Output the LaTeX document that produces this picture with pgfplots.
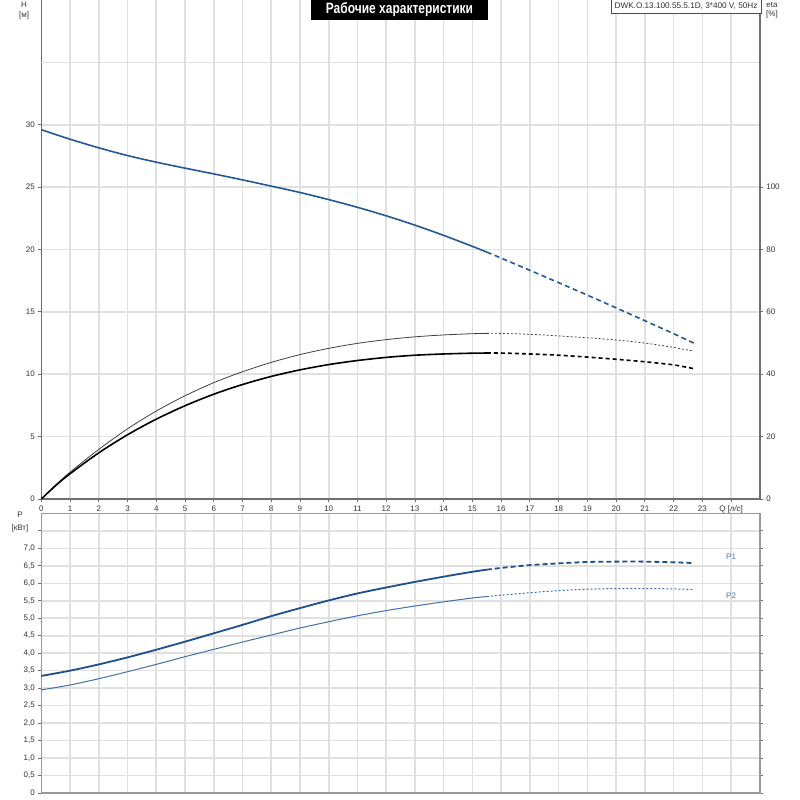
\documentclass[border=0pt]{standalone}
\usepackage{fontspec}
\setmainfont{Liberation Sans}
\newfontfamily\titlefont[FakeStretch=0.8]{Liberation Sans}
\usepackage{pgfplots}
\usepackage{pgfplotstable}
\pgfplotsset{compat=1.18}

\definecolor{hblue}{HTML}{245896}
\definecolor{pone}{HTML}{1F4F8C}
\definecolor{ptwo}{HTML}{3E70AA}
\definecolor{lblblue}{HTML}{4A78B0}
\definecolor{gridc}{HTML}{E0E0E0}
\definecolor{axc}{HTML}{6E6E6E}
\definecolor{txt}{HTML}{333333}

% head curve H [m]
\pgfplotstableread{
Q H
0 29.6
1 28.84
2 28.15
3 27.53
4 27.0
5 26.52
6 26.06
7 25.58
8 25.08
9 24.57
10 24.0
11 23.38
12 22.70
13 21.95
14 21.13
15 20.25
15.5 19.79
}\Hsolid
\pgfplotstableread{
Q H
15.5 19.79
16 19.31
17 18.33
18 17.34
19 16.34
20 15.32
21 14.29
22 13.25
22.7 12.5
}\Hdash

% efficiency curves eta [%]
\pgfplotstableread{
Q a b
0 0 0
0.5 4.5 4.3
1 8.6 8.1
2 15.9 14.8
3 22.5 20.6
4 28.2 25.6
5 33.1 29.9
6 37.3 33.6
7 40.8 36.7
8 43.8 39.3
9 46.3 41.4
10 48.3 43.1
11 49.9 44.4
12 51.1 45.4
13 52.0 46.1
14 52.6 46.5
15 53.0 46.75
15.5 53.1 46.8
}\Esolid
\pgfplotstableread{
Q a b
15.5 53.1 46.8
16 53.1 46.8
17 52.8 46.5
18 52.3 46.1
19 51.7 45.5
20 51.0 44.8
21 50.0 44.0
22 48.6 43.0
22.7 47.4 41.8
}\Edash

% power P1, P2 [kW]
\pgfplotstableread{
Q p1 p2
0 3.35 2.95
1 3.50 3.09
2 3.68 3.27
3 3.88 3.47
4 4.10 3.68
5 4.33 3.90
6 4.57 4.11
7 4.81 4.32
8 5.06 4.52
9 5.29 4.72
10 5.51 4.90
11 5.71 5.07
12 5.88 5.22
13 6.04 5.35
14 6.19 5.47
15 6.33 5.58
15.5 6.39 5.62
}\Psolid
\pgfplotstableread{
Q p1 p2
15.5 6.39 5.62
16 6.44 5.66
17 6.52 5.73
18 6.57 5.79
19 6.61 5.83
20 6.62 5.85
21 6.62 5.85
22 6.60 5.84
22.7 6.58 5.82
}\Pdash

\pgfplotsset{
  base/.style={
    scale only axis, width=718.5pt,
    xmin=0, xmax=25,
    xtick={0,...,24},
    tick align=outside, major tick length=3pt,
    tick style={draw=axc, line width=0.8pt},
    grid=major, major grid style={draw=gridc, line width=1.6pt},
    axis line style={-, draw=axc, line width=1.6pt},
    ticklabel style={font=\fontsize{8}{9}\selectfont, text=txt},
    /pgf/number format/assume math mode=true,
    clip=false,
  },
}

\begin{document}
\begin{tikzpicture}[x=1pt,y=1pt]
\useasboundingbox[fill=white] (0,0) rectangle (800,800);

% upper panel: H
\begin{axis}[base,
  at={(41.3pt,301pt)}, anchor=south west, height=499pt,
  ymin=0, ymax=40,
  axis x line*=bottom, axis y line*=left,
  ytick={0,5,...,30},
  extra y ticks={35}, extra y tick labels={},
  extra y tick style={major tick length=0pt},
  xticklabels={0,1,2,3,4,5,6,7,8,9,10,11,12,13,14,15,16,17,18,19,20,21,22,23,{Q [\textit{л/с}]}},
]
\addplot[hblue, line width=1.6pt, smooth] table[x=Q,y=H] {\Hsolid};
\addplot[hblue, line width=1.6pt, smooth, dash pattern=on 5pt off 3.5pt] table[x=Q,y=H] {\Hdash};
\end{axis}

% upper panel: eta
\begin{axis}[base,
  at={(41.3pt,301pt)}, anchor=south west, height=499pt,
  ymin=0, ymax=160,
  grid=none,
  axis x line=none, axis y line*=right,
  ytick={0,20,...,100},
]
\addplot[black!75, line width=0.8pt, smooth] table[x=Q,y=a] {\Esolid};
\addplot[black!75, line width=0.8pt, smooth, dash pattern=on 2pt off 2pt] table[x=Q,y=a] {\Edash};
\addplot[black, line width=1.6pt, smooth] table[x=Q,y=b] {\Esolid};
\addplot[black, line width=1.6pt, smooth, dash pattern=on 4pt off 3pt] table[x=Q,y=b] {\Edash};
\end{axis}

% lower panel: P
\begin{axis}[base,
  at={(41.3pt,7pt)}, anchor=south west, height=279.6pt,
  ymin=0, ymax=8,
  xticklabels={}, xtick style={draw=none},
  axis line style={-, draw=black!40, line width=1.6pt},
  ytick={0,0.5,...,7.5},
  yticklabels={0,{0,5},{1,0},{1,5},{2,0},{2,5},{3,0},{3,5},{4,0},{4,5},{5,0},{5,5},{6,0},{6,5},{7,0},{}},
]
\addplot[pone, line width=1.8pt, smooth] table[x=Q,y=p1] {\Psolid};
\addplot[pone, line width=1.8pt, smooth, dash pattern=on 5pt off 3pt] table[x=Q,y=p1] {\Pdash};
\addplot[ptwo, line width=1pt, smooth] table[x=Q,y=p2] {\Psolid};
\addplot[ptwo, line width=1pt, smooth, dash pattern=on 2pt off 2pt] table[x=Q,y=p2] {\Pdash};
\node[font=\fontsize{8}{9}\selectfont, text=lblblue] at (axis cs:24,6.75) {P1};
\node[font=\fontsize{8}{9}\selectfont, text=lblblue] at (axis cs:24,5.64) {P2};
\end{axis}

% axis captions
\begin{scope}[font=\fontsize{8}{9}\selectfont, text=txt]
\node at (24,795) {H};
\node at (24,785) {[м]};
\node at (772,795) {eta};
\node at (772,786) {[\%]};
\node at (20,285) {P};
\node at (20,272) {[кВт]};
\end{scope}

% title and info boxes
\fill[black] (311,800) rectangle (488,780);
\node[text=white, font=\titlefont\bfseries\fontsize{15}{16}\selectfont] at (399.5,790) {Рабочие характеристики};
\draw[fill=white, draw=black!70, line width=0.8pt] (611,800.5) rectangle (761,786.7);
\node[text=txt, font=\fontsize{8.2}{9}\selectfont] at (686,793.5) {DWK.O.13.100.55.5.1D, 3*400 V, 50Hz};
\end{tikzpicture}
\end{document}
